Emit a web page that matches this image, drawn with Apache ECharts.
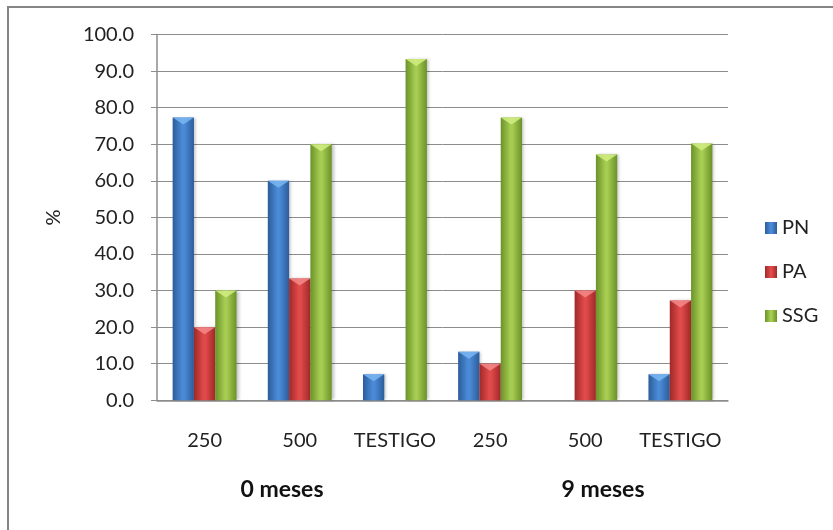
<!DOCTYPE html>
<html>
<head>
<meta charset="utf-8">
<script src="https://cdn.jsdelivr.net/npm/echarts@6/dist/echarts.min.js"></script>
<style>
  html, body { margin: 0; padding: 0; background: #ffffff; }
  #chart { width: 833px; height: 530px; }
</style>
</head>
<body>
<div id="chart"></div>
<script>
// Dose categories, repeated for each storage period
const categories = ['250', '500', 'TESTIGO', '250', '500', 'TESTIGO'];
const groupLabels = ['0 meses', '9 meses'];
const seriesNames = ['PN', 'PA', 'SSG'];

// Percentages per category (null = no bar)
const pn  = [77.3, 60.0, 7.1, 13.3, null, 7.1];
const pa  = [20.0, 33.3, null, 10.0, 30.0, 27.3];
const ssg = [30.0, 70.0, 93.3, 77.3, 67.2, 70.2];

const yTicks = { min: 0, max: 100, step: 10 };

const palettes = {
  PN:  { edge: '#2c5c9a', mid: '#4a8ad6', cap: '#7ab6f2' },
  PA:  { edge: '#a02828', mid: '#e04a4a', cap: '#f48a8a' },
  SSG: { edge: '#6a9228', mid: '#a6cc52', cap: '#d2ee82' }
};

function barFill(p) {
  return new echarts.graphic.LinearGradient(0, 0, 1, 0, [
    { offset: 0, color: p.edge },
    { offset: 0.45, color: p.mid },
    { offset: 0.55, color: p.mid },
    { offset: 1, color: p.edge }
  ]);
}

const values = { PN: pn, PA: pa, SSG: ssg };
const BAR_W = 21.3;
const font = 'Lato, "Open Sans", sans-serif';

const series = [];
seriesNames.forEach(function (name) {
  series.push({
    name: name,
    type: 'bar',
    data: values[name],
    barWidth: BAR_W,
    barGap: '0%',
    itemStyle: {
      color: barFill(palettes[name]),
      shadowColor: 'rgba(0,0,0,0.25)',
      shadowBlur: 3,
      shadowOffsetX: 2
    },
    z: 2
  });
});
// bevelled top caps on each bar
seriesNames.forEach(function (name) {
  series.push({
    name: name + ' cap',
    type: 'pictorialBar',
    data: values[name],
    barWidth: BAR_W,
    barGap: '0%',
    symbol: 'path://M0,0 L20,0 L10,7 Z',
    symbolSize: [BAR_W, 7],
    symbolPosition: 'end',
    symbolOffset: [0, 0],
    itemStyle: { color: palettes[name].cap, opacity: 0.85 },
    silent: true,
    z: 3
  });
});

const chart = echarts.init(document.getElementById('chart'));
chart.setOption({
  animation: false,
  backgroundColor: '#ffffff',
  grid: { left: 157, right: 105, top: 34.5, bottom: 129.7 },
  legend: {
    data: seriesNames,
    orient: 'vertical',
    left: 760,
    top: 213,
    icon: 'rect',
    itemWidth: 12,
    itemHeight: 12,
    itemGap: 24,
    textStyle: { fontFamily: font, fontSize: 20, color: '#222' }
  },
  xAxis: {
    type: 'category',
    data: categories,
    axisLine: { lineStyle: { color: '#8c8c8c', width: 1.5 } },
    axisTick: { show: false },
    axisLabel: { margin: 30, fontFamily: font, fontSize: 20, color: '#222', interval: 0 }
  },
  yAxis: {
    type: 'value',
    min: yTicks.min,
    max: yTicks.max,
    interval: yTicks.step,
    name: '%',
    nameLocation: 'middle',
    nameRotate: 90,
    nameGap: 93,
    nameTextStyle: { fontFamily: font, fontSize: 20, color: '#222' },
    axisLine: { show: true, lineStyle: { color: '#8c8c8c', width: 1.5 } },
    axisTick: { show: true, length: 6, lineStyle: { color: '#8c8c8c' } },
    splitLine: { lineStyle: { color: '#8c8c8c', width: 1 } },
    axisLabel: {
      margin: 23,
      fontFamily: font,
      fontSize: 20,
      color: '#222',
      formatter: function (v) { return v.toFixed(1); }
    }
  },
  graphic: [
    {
      type: 'rect',
      shape: { x: 8, y: 7, width: 900, height: 600 },
      style: { fill: 'none', stroke: '#858585', lineWidth: 2 },
      silent: true
    },
    {
      type: 'text',
      x: 282, y: 490,
      style: { text: groupLabels[0], fontFamily: font, fontSize: 23, fontWeight: 'bold', fill: '#111', align: 'center', verticalAlign: 'middle' }
    },
    {
      type: 'text',
      x: 603, y: 490,
      style: { text: groupLabels[1], fontFamily: font, fontSize: 23, fontWeight: 'bold', fill: '#111', align: 'center', verticalAlign: 'middle' }
    }
  ],
  series: series
});
</script>
</body>
</html>
